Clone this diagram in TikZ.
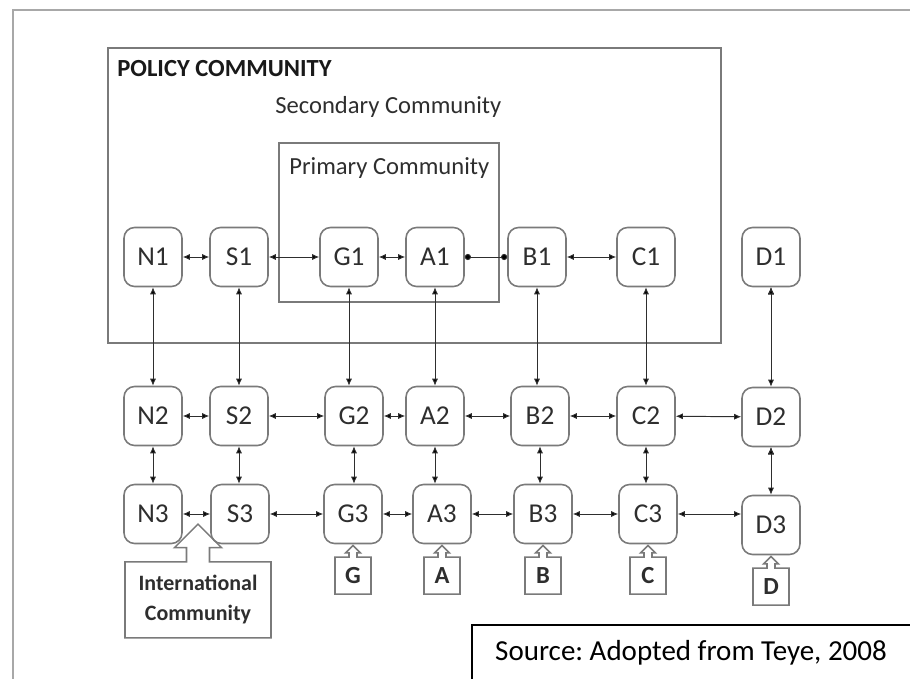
\documentclass[tikz,border=0pt]{standalone}
\usepackage{fontspec}
\setmainfont{Carlito}
\usetikzlibrary{positioning, arrows.meta, shapes.arrows}
\definecolor{frameGray}{HTML}{A8A8A8}
\definecolor{lineGray}{HTML}{7A7A7A}
\definecolor{inkGray}{HTML}{2E2E2E}

\begin{document}
\begin{tikzpicture}[x=0.02cm, y=-0.02cm, font=\fontsize{14}{16}\selectfont,
    actor/.style={draw=lineGray, line width=0.9pt, rounded corners=6pt, text=inkGray,
      minimum width=1.16cm, minimum height=1.18cm, inner sep=0pt,
      font=\fontsize{15.5}{17}\selectfont},
    tag/.style={arrow box, draw=lineGray, line width=0.9pt, text=inkGray, inner sep=0pt,
      minimum width=0.72cm, minimum height=0.74cm, font=\fontsize{14}{16}\selectfont\bfseries,
      arrow box arrows={north:0.22cm}, arrow box shaft width=0.16cm,
      arrow box head extend=0.07cm, arrow box tip angle=90, anchor=north arrow tip},
    link/.style={{Latex[length=4pt, width=3.5pt]}-{Latex[length=4pt, width=3.5pt]},
      draw=inkGray, line width=0.55pt},
    dotlink/.style={{Circle[length=3.5pt]}-{Circle[length=3.5pt]}, draw=inkGray, line width=0.55pt},
    frame/.style={draw=lineGray, line width=0.9pt}]
    \useasboundingbox (0,0) rectangle (910,679);
    % page frame and community boxes
    \draw[frameGray, line width=1.6pt] (920,10) -- (13,10) -- (13,690);
    \draw[frame] (108,48) rectangle (721,343);
    \draw[frame] (279,143) rectangle (499,302);
    \node[anchor=west, inner sep=0pt, text=black!90, font=\fontsize{14}{16}\selectfont\bfseries] (policy) at (117,69) {POLICY COMMUNITY};
    \node[anchor=west, inner sep=0pt, text=inkGray] (secondary) at (275,107) {Secondary Community};
    \node[anchor=west, inner sep=0pt, text=inkGray] (primary) at (289,168) {Primary Community};

    % first row
    \node[actor] (N1) at (153,257) {N1};
    \node[actor] (S1) at (239,257) {S1};
    \node[actor] (G1) at (349,257) {G1};
    \node[actor] (A1) at (435,257) {A1};
    \node[actor] (B1) at (537,257) {B1};
    \node[actor] (C1) at (646,257) {C1};
    \node[actor] (D1) at (771,257) {D1};
    % second row
    \node[actor] (N2) at (153,416) {N2};
    \node[actor] (S2) at (239,416) {S2};
    \node[actor] (G2) at (354,416) {G2};
    \node[actor] (A2) at (435,416) {A2};
    \node[actor] (B2) at (540,416) {B2};
    \node[actor] (C2) at (646,416) {C2};
    \node[actor] (D2) at (771,417) {D2};
    % third row
    \node[actor] (N3) at (153,514) {N3};
    \node[actor] (S3) at (240,514) {S3};
    \node[actor] (G3) at (353,514) {G3};
    \node[actor] (A3) at (442,514) {A3};
    \node[actor] (B3) at (543,514) {B3};
    \node[actor] (C3) at (648,514) {C3};
    \node[actor] (D3) at (771,525) {D3};

    % outside inputs
    \node[tag] (G) at (G3.south) {G};
    \node[tag] (A) at (A3.south) {A};
    \node[tag] (B) at (B3.south) {B};
    \node[tag] (C) at (C3.south) {C};
    \node[tag] (D) at (D3.south) {D};
    \node[arrow box, draw=lineGray, line width=0.9pt, text=inkGray, align=center,
      minimum width=2.92cm, minimum height=1.52cm, inner sep=0pt,
      font=\fontsize{12.5}{17}\selectfont\bfseries,
      arrow box arrows={north:0.74cm}, arrow box shaft width=0.46cm,
      arrow box head extend=0.24cm, arrow box tip angle=90,
      anchor=north arrow tip] (intl) at (198,523) {International\\Community};

    % links along the rows
    \path[link] (N1) edge (S1) (S1) edge (G1) (G1) edge (A1) (B1) edge (C1);
    \path[dotlink] (A1) edge (B1);
    \path[link] (N2) edge (S2) (S2) edge (G2) (G2) edge (A2) (A2) edge (B2)
      (B2) edge (C2) (C2) edge (D2);
    \path[link] (N3) edge (S3) (S3) edge (G3) (G3) edge (A3) (A3) edge (B3)
      (B3) edge (C3) (C3) edge (C3 -| D3.west);
    % links between the rows
    \path[link] (N1.south) edge (N1.south |- N2.north) (S1.south) edge (S1.south |- S2.north)
      (G1.south) edge (G1.south |- G2.north) (A1.south) edge (A1.south |- A2.north)
      (B1.south) edge (B1.south |- B2.north) (C1.south) edge (C1.south |- C2.north)
      (D1.south) edge (D1.south |- D2.north);
    \path[link] (N2.south) edge (N2.south |- N3.north) (S2.south) edge (S2.south |- S3.north)
      (G2.south) edge (G2.south |- G3.north) (A2.south) edge (A2.south |- A3.north)
      (B2.south) edge (B2.south |- B3.north) (C2.south) edge (C2.south |- C3.north)
      (D2.south) edge (D2.south |- D3.north);

    % source note
    \draw[black, line width=0.6pt] (472,690) -- (472,625) -- (920,625);
    \node[font=\fontsize{16.5}{18}\selectfont\frenchspacing] (source) at (691,653) {Source: Adopted from Teye, 2008};
\end{tikzpicture}
\end{document}
